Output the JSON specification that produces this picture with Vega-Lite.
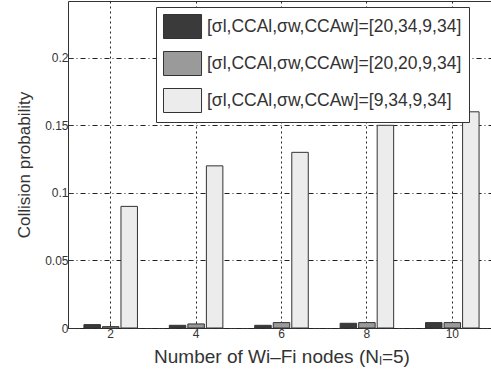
{
  "$schema": "https://vega.github.io/schema/vega-lite/v6.json",
  "autosize": "none",
  "width": 427,
  "height": 327,
  "padding": {"left": 68, "top": 1, "right": 0, "bottom": 51},
  "background": "white",
  "config": {
    "font": "Liberation Sans",
    "view": {"stroke": "#333", "strokeWidth": 1}
  },
  "data": {
    "values": [
      {"n": "2", "s": "[σl,CCAl,σw,CCAw]=[20,34,9,34]", "p": 0.0025},
      {"n": "2", "s": "[σl,CCAl,σw,CCAw]=[20,20,9,34]", "p": 0.001},
      {"n": "2", "s": "[σl,CCAl,σw,CCAw]=[9,34,9,34]", "p": 0.09},
      {"n": "4", "s": "[σl,CCAl,σw,CCAw]=[20,34,9,34]", "p": 0.002},
      {"n": "4", "s": "[σl,CCAl,σw,CCAw]=[20,20,9,34]", "p": 0.003},
      {"n": "4", "s": "[σl,CCAl,σw,CCAw]=[9,34,9,34]", "p": 0.12},
      {"n": "6", "s": "[σl,CCAl,σw,CCAw]=[20,34,9,34]", "p": 0.002},
      {"n": "6", "s": "[σl,CCAl,σw,CCAw]=[20,20,9,34]", "p": 0.004},
      {"n": "6", "s": "[σl,CCAl,σw,CCAw]=[9,34,9,34]", "p": 0.13},
      {"n": "8", "s": "[σl,CCAl,σw,CCAw]=[20,34,9,34]", "p": 0.0035},
      {"n": "8", "s": "[σl,CCAl,σw,CCAw]=[20,20,9,34]", "p": 0.004},
      {"n": "8", "s": "[σl,CCAl,σw,CCAw]=[9,34,9,34]", "p": 0.15},
      {"n": "10", "s": "[σl,CCAl,σw,CCAw]=[20,34,9,34]", "p": 0.004},
      {"n": "10", "s": "[σl,CCAl,σw,CCAw]=[20,20,9,34]", "p": 0.004},
      {"n": "10", "s": "[σl,CCAl,σw,CCAw]=[9,34,9,34]", "p": 0.16}
    ]
  },
  "mark": {"type": "bar", "stroke": "#333", "strokeWidth": 1},
  "encoding": {
    "x": {
      "field": "n", "type": "ordinal", "sort": ["2", "4", "6", "8", "10"],
      "scale": {"paddingInner": 0, "paddingOuter": 0},
      "axis": {
        "title": "Number of Wi–Fi nodes (Nₗ=5)",
        "titleFontSize": 19, "titleFontWeight": "normal", "titleColor": "#333", "titlePadding": 8,
        "labelAngle": 0, "labelFontSize": 12, "labelColor": "#333", "labelPadding": 5,
        "domain": false, "ticks": true, "tickSize": -5, "tickColor": "#333",
        "grid": true, "gridColor": "#222", "gridDash": [2, 3], "gridWidth": 1, "bandPosition": 0.5
      }
    },
    "xOffset": {
      "field": "s", "type": "nominal",
      "sort": ["[σl,CCAl,σw,CCAw]=[20,34,9,34]", "[σl,CCAl,σw,CCAw]=[20,20,9,34]", "[σl,CCAl,σw,CCAw]=[9,34,9,34]"],
      "scale": {"paddingInner": 0.11, "paddingOuter": 0.86}
    },
    "y": {
      "field": "p", "type": "quantitative",
      "scale": {"domain": [0, 0.242], "nice": false, "zero": true},
      "axis": {
        "title": "Collision probability",
        "titleFontSize": 17, "titleFontWeight": "normal", "titleColor": "#333", "titlePadding": 11,
        "values": [0, 0.05, 0.1, 0.15, 0.2], "format": "~g",
        "labelFontSize": 12, "labelColor": "#333", "labelPadding": 5,
        "domain": false, "ticks": true, "tickSize": -5, "tickColor": "#333",
        "grid": true, "gridColor": "#222", "gridDash": [5, 3, 1, 3], "gridWidth": 1
      }
    },
    "fill": {
      "field": "s", "type": "nominal",
      "sort": ["[σl,CCAl,σw,CCAw]=[20,34,9,34]", "[σl,CCAl,σw,CCAw]=[20,20,9,34]", "[σl,CCAl,σw,CCAw]=[9,34,9,34]"],
      "scale": {"range": ["#3a3a3a", "#9a9a9a", "#ececec"]},
      "legend": {
        "title": null, "orient": "none", "legendX": 88, "legendY": 6,
        "fillColor": "white", "strokeColor": "#333", "padding": 7,
        "symbolType": "M-1,-1H2.17V1H-1Z", "symbolSize": 576,
        "symbolStrokeColor": "#333", "symbolStrokeWidth": 1, "symbolOpacity": 1,
        "labelFontSize": 17.5, "labelColor": "#333", "labelOffset": 19, "labelLimit": 400,
        "rowPadding": 8
      }
    }
  }
}
